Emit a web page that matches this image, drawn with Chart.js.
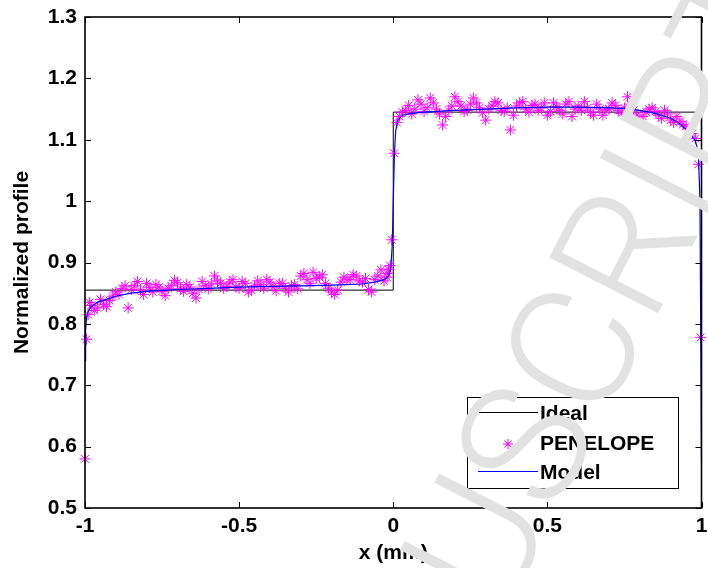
<!DOCTYPE html>
<html>
<head>
<meta charset="utf-8">
<title>Normalized profile</title>
<script src="https://cdn.jsdelivr.net/npm/chart.js"></script>
<style>
  html, body { margin: 0; padding: 0; background: #fff; }
  canvas { display: block; }
</style>
</head>
<body>
<canvas id="profileChart" width="708" height="568"></canvas>
<script>
// axis ticks
const xTicks = [-1, -0.5, 0, 0.5, 1];
const xTickLabels = ['-1', '-0.5', '0', '0.5', '1'];
const yTicks = [0.5, 0.6, 0.7, 0.8, 0.9, 1.0, 1.1, 1.2, 1.3];
const yTickLabels = ['0.5', '0.6', '0.7', '0.8', '0.9', '1', '1.1', '1.2', '1.3'];

// ideal step profile
const idealX = [-1, 0, 0, 1];
const idealY = [0.855, 0.855, 1.145, 1.145];

// PENELOPE simulation
const penelopeX = [
  -0.995, -0.985, -0.020, -0.015, -0.005, 0.003, 0.012, 0.997,
  -1.00, -0.99, -0.98, -0.97, -0.96, -0.95, -0.94, -0.93, -0.92, -0.91,
  -0.90, -0.89, -0.88, -0.87, -0.86, -0.85, -0.84, -0.83, -0.82, -0.81,
  -0.80, -0.79, -0.78, -0.77, -0.76, -0.75, -0.74, -0.73, -0.72, -0.71,
  -0.70, -0.69, -0.68, -0.67, -0.66, -0.65, -0.64, -0.63, -0.62, -0.61,
  -0.60, -0.59, -0.58, -0.57, -0.56, -0.55, -0.54, -0.53, -0.52, -0.51,
  -0.50, -0.49, -0.48, -0.47, -0.46, -0.45, -0.44, -0.43, -0.42, -0.41,
  -0.40, -0.39, -0.38, -0.37, -0.36, -0.35, -0.34, -0.33, -0.32, -0.31,
  -0.30, -0.29, -0.28, -0.27, -0.26, -0.25, -0.24, -0.23, -0.22, -0.21,
  -0.20, -0.19, -0.18, -0.17, -0.16, -0.15, -0.14, -0.13, -0.12, -0.11,
  -0.10, -0.09, -0.08, -0.07, -0.06, -0.05, -0.04, -0.03, -0.02, -0.01,
  0.02, 0.03, 0.04, 0.05, 0.06, 0.07, 0.08, 0.09, 0.10, 0.11,
  0.12, 0.13, 0.14, 0.15, 0.16, 0.17, 0.18, 0.19, 0.20, 0.21,
  0.22, 0.23, 0.24, 0.25, 0.26, 0.27, 0.28, 0.29, 0.30, 0.31,
  0.32, 0.33, 0.34, 0.35, 0.36, 0.37, 0.38, 0.39, 0.40, 0.41,
  0.42, 0.43, 0.44, 0.45, 0.46, 0.47, 0.48, 0.49, 0.50, 0.51,
  0.52, 0.53, 0.54, 0.55, 0.56, 0.57, 0.58, 0.59, 0.60, 0.61,
  0.62, 0.63, 0.64, 0.65, 0.66, 0.67, 0.68, 0.69, 0.70, 0.71,
  0.72, 0.73, 0.74, 0.75, 0.76, 0.77, 0.78, 0.79, 0.80, 0.81,
  0.82, 0.83, 0.84, 0.85, 0.86, 0.87, 0.88, 0.89, 0.90, 0.91,
  0.92, 0.93, 0.94, 0.95, 0.96, 0.97, 0.98, 0.99
];
const penelopeY = [
  0.775, 0.835, 0.882, 0.889, 0.937, 1.078, 1.128, 0.778,
  0.580, 0.815, 0.830, 0.822, 0.826, 0.840, 0.832, 0.828, 0.838, 0.845,
  0.852, 0.848, 0.858, 0.862, 0.826, 0.856, 0.862, 0.869, 0.855, 0.848,
  0.866, 0.859, 0.852, 0.864, 0.860, 0.853, 0.846, 0.858, 0.862, 0.871,
  0.867, 0.858, 0.853, 0.864, 0.860, 0.850, 0.842, 0.856, 0.869, 0.862,
  0.857, 0.865, 0.878, 0.870, 0.866, 0.858, 0.861, 0.868, 0.872, 0.860,
  0.858, 0.869, 0.866, 0.852, 0.855, 0.862, 0.870, 0.864, 0.858, 0.872,
  0.868, 0.860, 0.854, 0.866, 0.866, 0.858, 0.852, 0.862, 0.864, 0.857,
  0.878, 0.882, 0.872, 0.866, 0.884, 0.874, 0.876, 0.880, 0.866, 0.858,
  0.852, 0.848, 0.855, 0.868, 0.876, 0.872, 0.872, 0.880, 0.878, 0.870,
  0.868, 0.874, 0.856, 0.852, 0.872, 0.878, 0.888, 0.870, 0.876, 0.895,
  1.138, 1.145, 1.148, 1.156, 1.142, 1.150, 1.165, 1.158, 1.146, 1.152,
  1.168, 1.160, 1.150, 1.142, 1.124, 1.138, 1.148, 1.155, 1.170, 1.162,
  1.155, 1.146, 1.148, 1.158, 1.168, 1.160, 1.152, 1.144, 1.132, 1.150,
  1.155, 1.162, 1.160, 1.148, 1.146, 1.152, 1.116, 1.140, 1.155, 1.160,
  1.162, 1.150, 1.145, 1.156, 1.158, 1.148, 1.152, 1.160, 1.140, 1.146,
  1.160, 1.154, 1.148, 1.142, 1.158, 1.162, 1.138, 1.150, 1.155, 1.148,
  1.162, 1.152, 1.145, 1.140, 1.158, 1.150, 1.140, 1.148, 1.150, 1.160,
  1.156, 1.148, 1.143, 1.152, 1.170, 1.158, 1.148, 1.140, 1.128, 1.138,
  1.145, 1.150, 1.152, 1.146, 1.140, 1.135, 1.148, 1.142, 1.132, 1.128,
  1.138, 1.130, 1.125, 1.122, 1.118, 1.110, 1.102, 1.060
];

// analytical model
const modelX = [
  -1, -0.998, -0.995, -0.99, -0.98, -0.96, -0.93, -0.9, -0.85, -0.8,
  -0.7, -0.6, -0.5, -0.4, -0.3, -0.2, -0.1, -0.06, -0.03, -0.015,
  -0.008, -0.003, 0, 0.004, 0.008, 0.015, 0.03, 0.06, 0.1, 0.2,
  0.3, 0.4, 0.5, 0.6, 0.7, 0.75, 0.8, 0.85, 0.9, 0.93,
  0.96, 0.98, 0.99, 0.995, 1
];
const modelY = [
  0.740, 0.790, 0.810, 0.820, 0.828, 0.835, 0.840, 0.845, 0.850, 0.853,
  0.856, 0.858, 0.860, 0.861, 0.862, 0.863, 0.865, 0.868, 0.872, 0.878,
  0.890, 0.930, 1.000, 1.080, 1.115, 1.132, 1.140, 1.143, 1.145, 1.148,
  1.150, 1.152, 1.153, 1.153, 1.152, 1.151, 1.148, 1.143, 1.135, 1.126,
  1.112, 1.098, 1.080, 1.000, 0.578
];

const toPoints = (xs, ys) => xs.map((x, i) => ({ x: x, y: ys[i] }));
const FONT = 'Liberation Sans, Arial, sans-serif';

// box around the plot with MATLAB-style inward ticks
const axesBox = {
  id: 'axesBox',
  afterDatasetsDraw(chart) {
    const { ctx, chartArea: a, scales } = chart;
    ctx.save();
    ctx.strokeStyle = '#000';
    ctx.lineWidth = 1;
    ctx.beginPath();
    xTicks.forEach(v => {
      const px = Math.round(scales.x.getPixelForValue(v)) + 0.5;
      ctx.moveTo(px, a.bottom); ctx.lineTo(px, a.bottom - 6);
      ctx.moveTo(px, a.top); ctx.lineTo(px, a.top + 6);
    });
    yTicks.forEach(v => {
      const py = Math.round(scales.y.getPixelForValue(v)) + 0.5;
      ctx.moveTo(a.left, py); ctx.lineTo(a.left + 6, py);
      ctx.moveTo(a.right, py); ctx.lineTo(a.right - 6, py);
    });
    ctx.stroke();
    ctx.lineWidth = 1.6;
    ctx.strokeRect(a.left, a.top, a.right - a.left, a.bottom - a.top);
    ctx.restore();
  }
};

// legend box in the lower right corner
const legendBox = {
  id: 'legendBox',
  afterDraw(chart) {
    const ctx = chart.ctx;
    const rows = [414, 444, 473];
    ctx.save();
    ctx.fillStyle = '#fff';
    ctx.fillRect(467, 397, 211, 91);
    ctx.strokeStyle = '#000';
    ctx.lineWidth = 1;
    ctx.strokeRect(467.5, 397.5, 211, 91);
    ctx.font = 'bold 21px ' + FONT;
    ctx.textBaseline = 'middle';
    ctx.textAlign = 'left';
    chart.data.datasets.forEach((ds, i) => {
      const y = rows[i];
      ctx.strokeStyle = ds.borderColor;
      ctx.lineWidth = 1;
      if (ds.showLine) {
        ctx.beginPath();
        ctx.moveTo(478, y - 1.5);
        ctx.lineTo(538, y - 1.5);
        ctx.stroke();
      } else {
        Chart.helpers.drawPoint(ctx, { pointStyle: 'star', radius: 5, borderWidth: 1 }, 508, y);
      }
      ctx.fillStyle = '#000';
      ctx.fillText(ds.label, 540, y);
    });
    ctx.restore();
  }
};

// diagonal watermark over the figure
const watermark = {
  id: 'watermark',
  afterDraw(chart) {
    const ctx = chart.ctx;
    ctx.save();
    ctx.translate(535, 460);
    ctx.rotate(-63 * Math.PI / 180);
    ctx.font = '300 172px Roboto';
    ctx.fillStyle = '#e2e2e2';
    ctx.textAlign = 'left';
    ctx.textBaseline = 'middle';
    const pre = ctx.measureText('ACCEPTED ').width;
    const word = ctx.measureText('MANUSCRIPT').width;
    ctx.fillText('ACCEPTED MANUSCRIPT', -pre - word / 2, 0);
    ctx.restore();
  }
};

const boldFont = { family: FONT, size: 21, weight: 'bold' };

new Chart(document.getElementById('profileChart'), {
  type: 'scatter',
  data: {
    datasets: [
      {
        label: 'Ideal',
        data: toPoints(idealX, idealY),
        showLine: true,
        borderColor: '#000000',
        borderWidth: 1,
        pointRadius: 0,
        order: 3
      },
      {
        label: 'PENELOPE',
        data: toPoints(penelopeX, penelopeY),
        showLine: false,
        pointStyle: 'star',
        pointRadius: 5.5,
        borderColor: '#ff00ff',
        backgroundColor: '#ff00ff',
        pointBorderWidth: 1,
        clip: false,
        order: 2
      },
      {
        label: 'Model',
        data: toPoints(modelX, modelY),
        showLine: true,
        borderColor: '#0000ff',
        borderWidth: 1.2,
        pointRadius: 0,
        clip: false,
        order: 1
      }
    ]
  },
  options: {
    responsive: false,
    animation: false,
    devicePixelRatio: 1,
    layout: { padding: { top: 17, right: -3, left: 0, bottom: 0 } },
    plugins: { legend: { display: false }, tooltip: { enabled: false } },
    scales: {
      x: {
        type: 'linear',
        min: -1,
        max: 1,
        afterFit: s => { s.height = 60; s.paddingLeft = 0; s.paddingRight = 0; },
        afterBuildTicks: s => { s.ticks = xTicks.map(v => ({ value: v })); },
        grid: { display: false, drawTicks: false },
        border: { display: false },
        ticks: {
          color: '#000',
          padding: 6,
          maxRotation: 0,
          font: boldFont,
          callback: (v, i) => xTickLabels[i]
        },
        title: {
          display: true,
          text: 'x (mm)',
          color: '#000',
          padding: { top: 0, bottom: 2 },
          font: boldFont
        }
      },
      y: {
        type: 'linear',
        min: 0.5,
        max: 1.3,
        afterFit: s => { s.width = 85; s.paddingTop = 0; s.paddingBottom = 0; },
        afterBuildTicks: s => { s.ticks = yTicks.map(v => ({ value: v })); },
        grid: { display: false, drawTicks: false },
        border: { display: false },
        ticks: {
          color: '#000',
          padding: 8,
          font: boldFont,
          callback: (v, i) => yTickLabels[i]
        },
        title: {
          display: true,
          text: 'Normalized profile',
          color: '#000',
          padding: { top: 10, bottom: 0 },
          font: boldFont
        }
      }
    }
  },
  plugins: [axesBox, legendBox, watermark]
});
</script>
</body>
</html>
